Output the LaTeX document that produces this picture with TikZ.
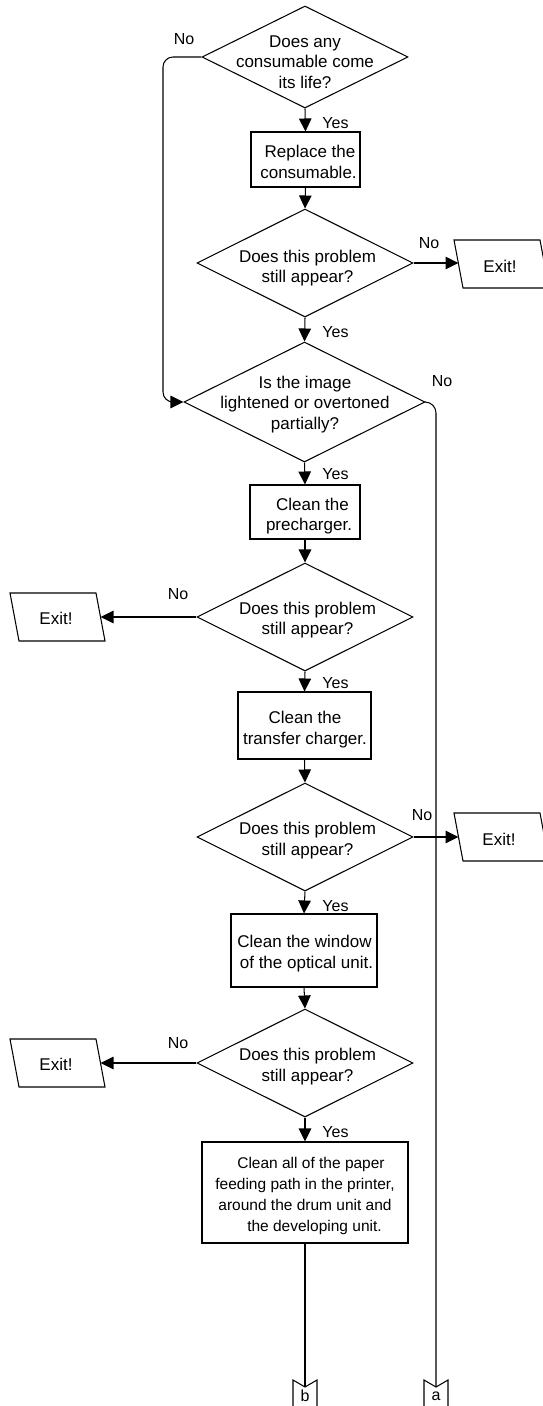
\documentclass[tikz,border=0pt]{standalone}
\usepackage{fontspec}
\setmainfont{Liberation Sans}
\usetikzlibrary{shapes.geometric,arrows.meta}
\begin{document}
\begin{tikzpicture}[x=1pt,y=-1pt,
  line width=1.05pt,
  dia/.style={draw, diamond, inner sep=0pt, line join=miter},
  box/.style={draw, rectangle, inner sep=0pt},
  txt/.style={align=center, font=\fontsize{17}{20.5}\selectfont, inner sep=0pt},
  smalltxt/.style={align=center, font=\fontsize{15.5}{21}\selectfont, inner sep=0pt},
  lab/.style={font=\fontsize{16}{19}\selectfont, inner sep=0pt},
  arr/.style={-{Triangle[length=13pt,width=12.5pt]}},
  exitshape/.style={draw, line join=miter},
]
\useasboundingbox (0,0) rectangle (543,1406);

% ---------- diamonds ----------
\node[dia, minimum width=206pt, minimum height=102pt] (d1) at (305,57) {};
\node[txt] (d1t) at (305,62) {Does any\\consumable come\\its life?};

\node[dia, minimum width=216pt, minimum height=108pt] (d2) at (305,263) {};
\node[txt] (d2t) at (307.5,268) {Does this problem\\still appear?};

\node[dia, minimum width=241pt, minimum height=120pt] (d3) at (304.5,402) {};
\node[txt] (d3t) at (305,404.5) {Is the image\\lightened or overtoned\\partially?};

\node[dia, minimum width=216pt, minimum height=108pt] (d4) at (305,617) {};
\node[txt] (d4t) at (307.5,620) {Does this problem\\still appear?};

\node[dia, minimum width=216pt, minimum height=108pt] (d5) at (305,837) {};
\node[txt] (d5t) at (307.5,840.5) {Does this problem\\still appear?};

\node[dia, minimum width=216pt, minimum height=108pt] (d6) at (305,1063) {};
\node[txt] (d6t) at (307.5,1066.5) {Does this problem\\still appear?};

% ---------- boxes ----------
\node[box, minimum width=109pt, minimum height=55pt] (b1) at (305.5,159.5) {};
\node[txt] (b1t) at (308.5,162) {\hspace{3pt}Replace the\\consumable.};

\node[box, minimum width=110pt, minimum height=54pt] (b2) at (305,512) {};
\node[txt] (b2t) at (309,516) {\hspace{7pt}Clean the\\precharger.};

\node[box, minimum width=133pt, minimum height=67pt] (b3) at (304.5,725.5) {};
\node[txt] (b3t) at (305,729.5) {Clean the\\transfer charger.};

\node[box, minimum width=146pt, minimum height=73pt] (b4) at (304,950.5) {};
\node[txt] (b4t) at (304.5,953.5) {Clean the window\hspace{4pt}\\\hspace{4pt}of the optical unit.};

\node[box, minimum width=206pt, minimum height=101pt] (b5) at (305,1192.5) {};
\node[smalltxt] (b5t) at (305,1196) {\hspace{12pt}Clean all of the paper\\feeding path in the printer,\\around the drum unit and\\\hspace{19pt}the developing unit.};

% ---------- exits ----------
\draw[exitshape] (454,240) -- (540,240) -- (549,288) -- (463,288) -- cycle;
\node[txt] (x1) at (500,266) {Exit!};
\coordinate (x1w) at (458.5,263);

\draw[exitshape] (10,593) -- (96,593) -- (105,641) -- (19,641) -- cycle;
\node[txt] (x2) at (56,618) {Exit!};
\coordinate (x2e) at (100.5,617);

\draw[exitshape] (454,813) -- (540,813) -- (549,861) -- (463,861) -- cycle;
\node[txt] (x3) at (499,839) {Exit!};
\coordinate (x3w) at (458.5,837);

\draw[exitshape] (10,1039) -- (96,1039) -- (105,1087) -- (19,1087) -- cycle;
\node[txt] (x4) at (56,1064) {Exit!};
\coordinate (x4e) at (100.5,1063);

% ---------- off-page connectors ----------
\coordinate (cb) at (305,1387);
\coordinate (ca) at (436,1387);
\draw[exitshape] (293,1410) -- (293,1380) -- (cb) -- (317,1380) -- (317,1410);
\draw[exitshape] (424,1410) -- (424,1380) -- (ca) -- (448,1380) -- (448,1410);
\node[lab] (cbt) at (305,1396) {b};
\node[lab] (cat) at (436,1396) {a};

% ---------- connectors ----------
\draw[arr] (d1.south) -- (b1.north);
\draw[arr] (b1.south) -- (d2.north);
\draw[arr] (d2.south) -- (d3.north);
\draw[arr] (d3.south) -- (b2.north);
\draw[arr] (b2.south) -- (d4.north);
\draw[arr] (d4.south) -- (b3.north);
\draw[arr] (b3.south) -- (d5.north);
\draw[arr] (d5.south) -- (b4.north);
\draw[arr] (b4.south) -- (d6.north);
\draw[arr] (d6.south) -- (b5.north);
\draw (b5.south) -- (cb);

\draw[arr] (d2.east) -- (x1w);
\draw[arr] (d4.west) -- (x2e);
\draw[arr] (d5.east) -- (x3w);
\draw[arr] (d6.west) -- (x4e);

\draw[arr, rounded corners=10pt] (d1.west) -- (163,57) -- (163,402) -- (d3.west);
\draw[rounded corners=11pt] (d3.east) -- (436,402) -- (ca);

% ---------- labels ----------
\node[lab] (ln1) at (184,39) {No};
\node[lab] (ly1) at (335.5,123) {Yes};
\node[lab] (ln2) at (429,243) {No};
\node[lab] (ly2) at (335.5,332) {Yes};
\node[lab] (ln3) at (442,381) {No};
\node[lab] (ly3) at (335.5,474) {Yes};
\node[lab] (ln4) at (178,594) {No};
\node[lab] (ly4) at (335.5,683) {Yes};
\node[lab] (ln5) at (422,815) {No};
\node[lab] (ly5) at (335.5,906) {Yes};
\node[lab] (ln6) at (178,1043) {No};
\node[lab] (ly6) at (335.5,1132) {Yes};
\end{tikzpicture}
\end{document}
